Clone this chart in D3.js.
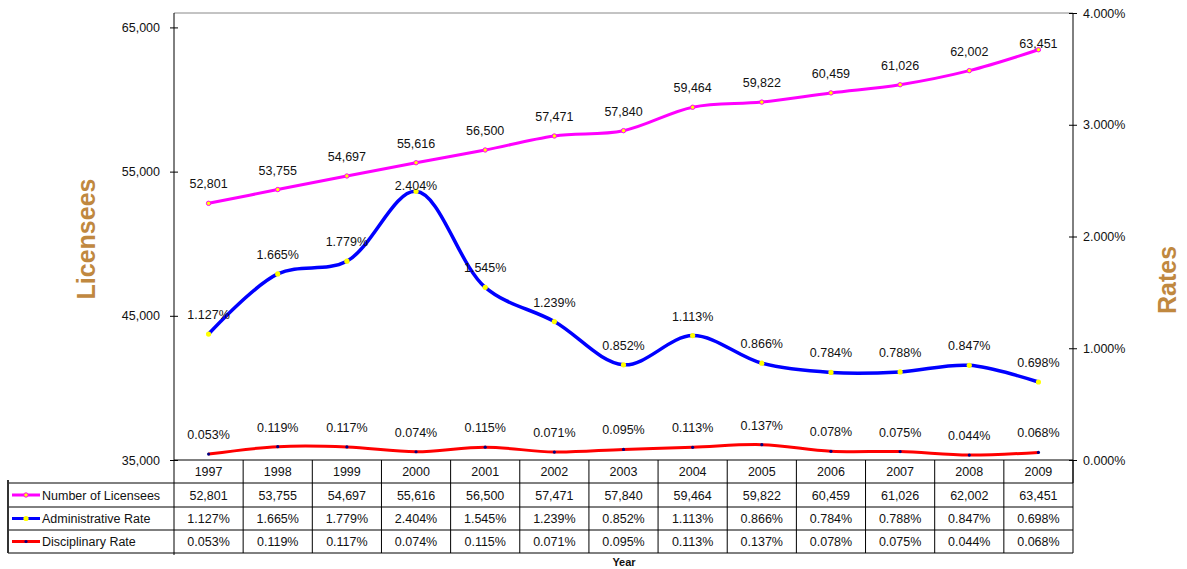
<!DOCTYPE html>
<html>
<head>
<meta charset="utf-8">
<script src="https://cdn.jsdelivr.net/npm/d3@7"></script>
<style>
  body { margin: 0; background: #fff; }
  svg { font-family: "Liberation Sans", Arial, sans-serif; }
</style>
</head>
<body>
<svg id="chart" width="1187" height="569"></svg>
<script>
const years = ["1997","1998","1999","2000","2001","2002","2003","2004","2005","2006","2007","2008","2009"];
const licensees = [52801,53755,54697,55616,56500,57471,57840,59464,59822,60459,61026,62002,63451];
const adminRate = [1.127,1.665,1.779,2.404,1.545,1.239,0.852,1.113,0.866,0.784,0.788,0.847,0.698];
const discRate = [0.053,0.119,0.117,0.074,0.115,0.071,0.095,0.113,0.137,0.078,0.075,0.044,0.068];
const leftTicks = [35000,45000,55000,65000];
const rightTicks = [0,1,2,3,4];

const fmtN = d3.format(",");
const fmtP = d => d.toFixed(3) + "%";

const plot = {left: 174, right: 1073, top: 13, bottom: 460};
const svg = d3.select("#chart");

const x = d3.scaleBand().domain(years).range([plot.left, plot.right]);
const cx = d => x(d) + x.bandwidth() / 2;
const yL = d3.scaleLinear().domain([35000, 66000]).range([plot.bottom, plot.top]);
const yR = d3.scaleLinear().domain([0, 4]).range([plot.bottom, plot.top]);

// plot border top
svg.append("line").attr("x1", plot.left).attr("x2", plot.right)
  .attr("y1", plot.top).attr("y2", plot.top).attr("stroke", "#888").attr("stroke-width", 1);

// axes
const axL = svg.append("g").attr("transform", `translate(${plot.left},0)`)
  .call(d3.axisLeft(yL).tickValues(leftTicks).tickFormat(fmtN).tickSizeOuter(0).tickSize(4));
axL.selectAll(".tick line").attr("x1", 4);
axL.select(".domain").attr("d", `M0,${plot.top}V${plot.bottom + 95}`);
const axR = svg.append("g").attr("transform", `translate(${plot.right},0)`)
  .call(d3.axisRight(yR).tickValues(rightTicks).tickFormat(fmtP).tickSizeOuter(0).tickSize(4));
axR.selectAll(".tick line").attr("x1", -4);
axR.select(".domain").attr("d", `M0,${plot.top}V${plot.bottom + 23}`);
svg.selectAll(".tick text").attr("font-size", 12.5).attr("fill", "#111")
  .attr("font-family", "Liberation Sans, Arial, sans-serif");
axL.selectAll(".tick text").attr("x", -14);
axR.selectAll(".tick text").attr("x", 10);
svg.selectAll(".domain, .tick line").attr("stroke", "#000");

// axis titles
svg.append("text").attr("transform", "translate(95,239) rotate(-90)")
  .attr("text-anchor", "middle").attr("font-size", 25).attr("font-weight", "bold")
  .attr("fill", "#C0883F").text("Licensees");
svg.append("text").attr("transform", "translate(1176,280) rotate(-90)")
  .attr("text-anchor", "middle").attr("font-size", 25).attr("font-weight", "bold")
  .attr("fill", "#C0883F").text("Rates");

// series
const series = [
  {name: "Number of Licensees", values: licensees, y: yL, fmt: fmtN, color: "#FF00FF", width: 3,
   nudge: {"2009": 13},
   marker: {r: 2.2, fill: "#FFFF00", stroke: "#FF00FF", sw: 1}},
  {name: "Administrative Rate", values: adminRate, y: yR, fmt: fmtP, color: "#0000FF", width: 3.5,
   nudge: {"2000": 14},
   marker: {r: 2.6, fill: "#FFFF00", stroke: "none", sw: 0}},
  {name: "Disciplinary Rate", values: discRate, y: yR, fmt: fmtP, color: "#FF0000", width: 3,
   nudge: {},
   marker: {r: 1.6, fill: "#000080", stroke: "none", sw: 0}}
];

series.forEach(s => {
  const line = d3.line().x((d, i) => cx(years[i])).y(d => s.y(d)).curve(d3.curveCatmullRom);
  svg.append("path").datum(s.values).attr("d", line).attr("fill", "none")
    .attr("stroke", s.color).attr("stroke-width", s.width);
  svg.append("g").selectAll("circle").data(s.values).join("circle")
    .attr("cx", (d, i) => cx(years[i])).attr("cy", d => s.y(d)).attr("r", s.marker.r)
    .attr("fill", s.marker.fill).attr("stroke", s.marker.stroke).attr("stroke-width", s.marker.sw);
  svg.append("g").selectAll("text").data(s.values).join("text")
    .attr("x", (d, i) => cx(years[i]))
    .attr("y", (d, i) => s.y(d) - 15 + (s.nudge[years[i]] || 0))
    .attr("text-anchor", "middle").attr("font-size", 12.5).attr("fill", "#111")
    .text(d => s.fmt(d));
});

// data table
const rowTop = [460, 483, 507, 530, 553];
const table = svg.append("g").attr("font-size", 12.5).attr("fill", "#111");
years.forEach(yr => {
  table.append("text").attr("x", cx(yr)).attr("y", (rowTop[0] + rowTop[1]) / 2 + 4.5)
    .attr("text-anchor", "middle").text(yr);
});
table.append("line").attr("x1", plot.left).attr("x2", plot.right)
  .attr("y1", rowTop[0]).attr("y2", rowTop[0]).attr("stroke", "#000");
rowTop.slice(1).forEach(yy => {
  table.append("line").attr("x1", 8).attr("x2", plot.right)
    .attr("y1", yy).attr("y2", yy).attr("stroke", "#000");
});
years.forEach((yr, i) => {
  if (i === 0) return;
  table.append("line").attr("x1", x(yr)).attr("x2", x(yr))
    .attr("y1", rowTop[0]).attr("y2", rowTop[4]).attr("stroke", "#000");
});
table.append("line").attr("x1", plot.right).attr("x2", plot.right)
  .attr("y1", rowTop[0]).attr("y2", rowTop[4]).attr("stroke", "#000");
table.append("line").attr("x1", 8).attr("x2", 8)
  .attr("y1", rowTop[1] - 3).attr("y2", rowTop[4]).attr("stroke", "#333").attr("stroke-width", 2);

series.forEach((s, r) => {
  const yMid = (rowTop[r + 1] + rowTop[r + 2]) / 2;
  table.append("line").attr("x1", 12).attr("x2", 40).attr("y1", yMid).attr("y2", yMid)
    .attr("stroke", s.color).attr("stroke-width", 3);
  table.append("circle").attr("cx", 26).attr("cy", yMid).attr("r", s.marker.r)
    .attr("fill", s.marker.fill).attr("stroke", s.marker.stroke).attr("stroke-width", s.marker.sw);
  table.append("text").attr("x", 42).attr("y", yMid + 4.5).text(s.name);
  s.values.forEach((v, i) => {
    table.append("text").attr("x", cx(years[i])).attr("y", yMid + 4.5)
      .attr("text-anchor", "middle").text(s.fmt(v));
  });
});

svg.append("text").attr("x", 624).attr("y", 566).attr("text-anchor", "middle")
  .attr("font-size", 11).attr("font-weight", "bold").attr("fill", "#111").text("Year");
</script>
</body>
</html>
